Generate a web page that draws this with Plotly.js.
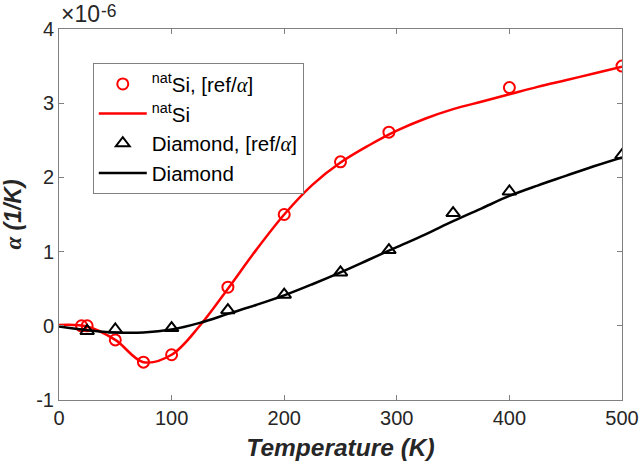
<!DOCTYPE html>
<html>
<head>
<meta charset="utf-8">
<script src="https://cdn.plot.ly/plotly-3.0.1.min.js"></script>
<style>html,body{margin:0;padding:0;background:#fff;}#chart{width:640px;height:469px;}</style>
</head>
<body>
<div id="chart"></div>
<script>
// Values in units of 1e-6 1/K
const siT = [20, 25, 50, 75, 100, 150, 200, 250, 293, 400, 500];
const siAlpha = [0.0, 0.0, -0.19, -0.49, -0.39, 0.52, 1.5, 2.21, 2.61, 3.21, 3.5];
const diaT = [25, 50, 100, 150, 200, 250, 293, 350, 400, 500];
const diaAlpha = [-0.07, -0.05, -0.03, 0.21, 0.42, 0.72, 1.02, 1.52, 1.81, 2.3];

const siCurveT = [0, 25, 50, 75, 100, 125, 150, 175, 200, 225, 250, 275, 300, 325, 350, 375, 400, 425, 450, 475, 500];
const siCurveA = [0.01, -0.01, -0.19, -0.49, -0.39, 0.0, 0.5, 1.02, 1.5, 1.9, 2.2, 2.43, 2.63, 2.79, 2.92, 3.02, 3.12, 3.22, 3.31, 3.4, 3.49];

const diaCurveT = [0, 25, 50, 75, 100, 125, 150, 175, 200, 225, 250, 275, 300, 325, 350, 375, 400, 425, 450, 475, 500];
const diaCurveA = [-0.01, -0.06, -0.09, -0.09, -0.05, 0.04, 0.16, 0.28, 0.41, 0.56, 0.72, 0.89, 1.06, 1.23, 1.41, 1.58, 1.75, 1.89, 2.02, 2.15, 2.27];

const xTicks = [0, 100, 200, 300, 400, 500];
const yTicks = [-1, 0, 1, 2, 3, 4];

const alpha = '<span style="font-family:Liberation Serif;font-style:italic">α</span>';
const sans = 'Liberation Sans, Arial, sans-serif';

const traces = [
  {x: siT, y: siAlpha, mode: 'markers', name: '<sup>nat</sup>Si, [ref/' + alpha + ']',
   marker: {symbol: 'circle-open', size: 11, color: '#ff0000', line: {width: 2, color: '#ff0000'}}},
  {x: siCurveT, y: siCurveA, mode: 'lines', name: '<sup>nat</sup>Si',
   line: {color: '#ff0000', width: 2.5, shape: 'spline', smoothing: 1}},
  {x: diaT, y: diaAlpha, mode: 'markers', name: 'Diamond, [ref/' + alpha + ']',
   marker: {symbol: 'triangle-up-open', size: 12, color: '#000000', line: {width: 2, color: '#000000'}}},
  {x: diaCurveT, y: diaCurveA, mode: 'lines', name: 'Diamond',
   line: {color: '#000000', width: 2.5, shape: 'spline', smoothing: 1}}
];

const axisCommon = {
  showgrid: false, zeroline: false, showline: true, linecolor: '#808080', linewidth: 1,
  mirror: 'ticks', ticks: 'inside', ticklen: 5, tickcolor: '#808080', tickwidth: 1,
  tickfont: {family: sans, size: 20, color: '#262626'}
};

const layout = {
  width: 640, height: 469,
  margin: {l: 59, r: 18, t: 29, b: 69},
  paper_bgcolor: '#ffffff', plot_bgcolor: '#ffffff',
  font: {family: sans, color: '#262626'},
  showlegend: true,
  legend: {x: 0.06, y: 0.908, xanchor: 'left', yanchor: 'top',
           bgcolor: '#ffffff', bordercolor: '#808080', borderwidth: 1,
           font: {family: sans, size: 20.5, color: '#000000'}, itemwidth: 48, tracegroupgap: 0},
  xaxis: Object.assign({}, axisCommon, {
    range: [0, 500], tickmode: 'array', tickvals: xTicks, ticktext: xTicks.map(String),
    title: {text: 'Temperature (K)', font: {family: sans, size: 24.5, weight: 'bold', style: 'italic', color: '#262626'}, standoff: 10}
  }),
  yaxis: Object.assign({}, axisCommon, {
    range: [-1, 4], tickmode: 'array', tickvals: yTicks, ticktext: yTicks.map(String),
    title: {text: alpha + ' (1/K)', font: {family: sans, size: 23, weight: 'bold', style: 'italic', color: '#262626'}, standoff: 21}
  }),
  annotations: [
    {xref: 'paper', yref: 'paper', x: 0, y: 1, xanchor: 'left', yanchor: 'bottom',
     xshift: 0, yshift: 0, showarrow: false, text: '×10',
     font: {family: sans, size: 23, color: '#262626'}},
    {xref: 'paper', yref: 'paper', x: 0, y: 1, xanchor: 'left', yanchor: 'bottom',
     xshift: 40, yshift: 6, showarrow: false, text: '-6',
     font: {family: sans, size: 17.5, color: '#262626'}}
  ]
};

Plotly.newPlot('chart', traces, layout, {displayModeBar: false, staticPlot: true});
</script>
</body>
</html>
